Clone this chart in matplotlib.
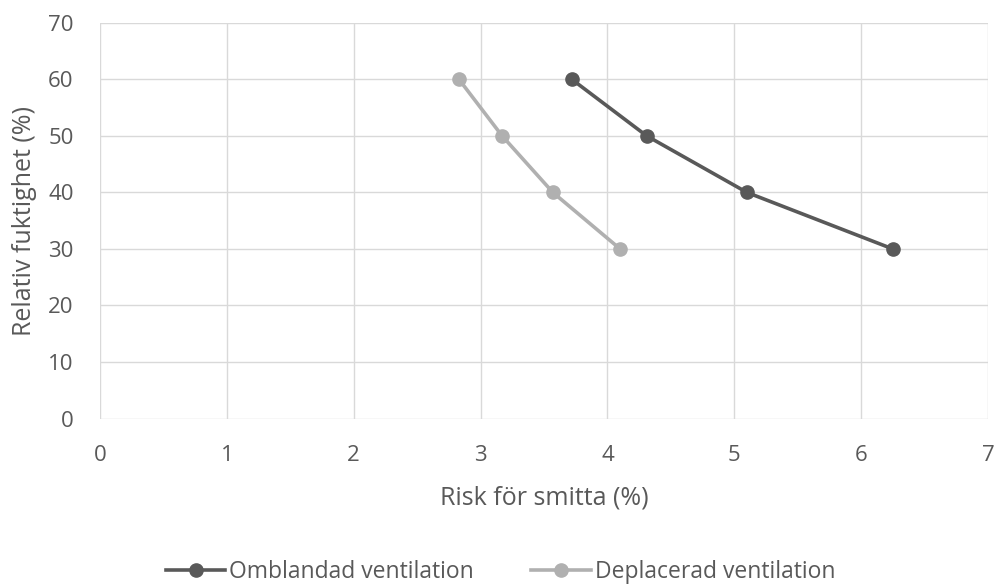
import matplotlib
matplotlib.use("Agg")
import matplotlib.pyplot as plt

humidity = [60, 50, 40, 30]
omblandad = [3.72, 4.31, 5.10, 6.25]
deplacerad = [2.83, 3.17, 3.57, 4.10]
x_ticks = [0, 1, 2, 3, 4, 5, 6, 7]
y_ticks = [0, 10, 20, 30, 40, 50, 60, 70]

plt.rcParams['font.family'] = ['Open Sans', 'DejaVu Sans']
text_col = '#595959'
grid_col = '#D9D9D9'

fig = plt.figure(figsize=(9.97, 5.87), dpi=100)
ax = fig.add_axes([0.1003, 0.287, 0.8907, 0.674])

ax.plot(omblandad, humidity, color='#595959', lw=2.6, marker='o', ms=9.5,
        label='Omblandad ventilation', zorder=3, clip_on=False)
ax.plot(deplacerad, humidity, color='#B0B0B0', lw=2.6, marker='o', ms=9.5,
        label='Deplacerad ventilation', zorder=3, clip_on=False)

ax.set_xlim(0, 7)
ax.set_ylim(0, 70)
ax.set_xticks(x_ticks)
ax.set_yticks(y_ticks)
ax.grid(True, color=grid_col, lw=1.0, zorder=0)
for s in ax.spines.values():
    s.set_visible(False)
ax.tick_params(length=0, labelsize=16, labelcolor=text_col)
ax.tick_params(axis='y', pad=19)
ax.tick_params(axis='x', pad=19)

ax.set_xlabel('Risk för smitta (%)', fontsize=18, color=text_col, labelpad=14)
ax.set_ylabel('Relativ fuktighet (%)', fontsize=18, color=text_col, labelpad=8)

leg = fig.legend(loc='center', bbox_to_anchor=(0.502, 0.025), ncol=2, frameon=False,
                 fontsize=16.5, labelcolor=text_col, handlelength=2.6,
                 handletextpad=0.17, columnspacing=2.5, borderpad=0.1)

fig.savefig('out.png', dpi=100)
